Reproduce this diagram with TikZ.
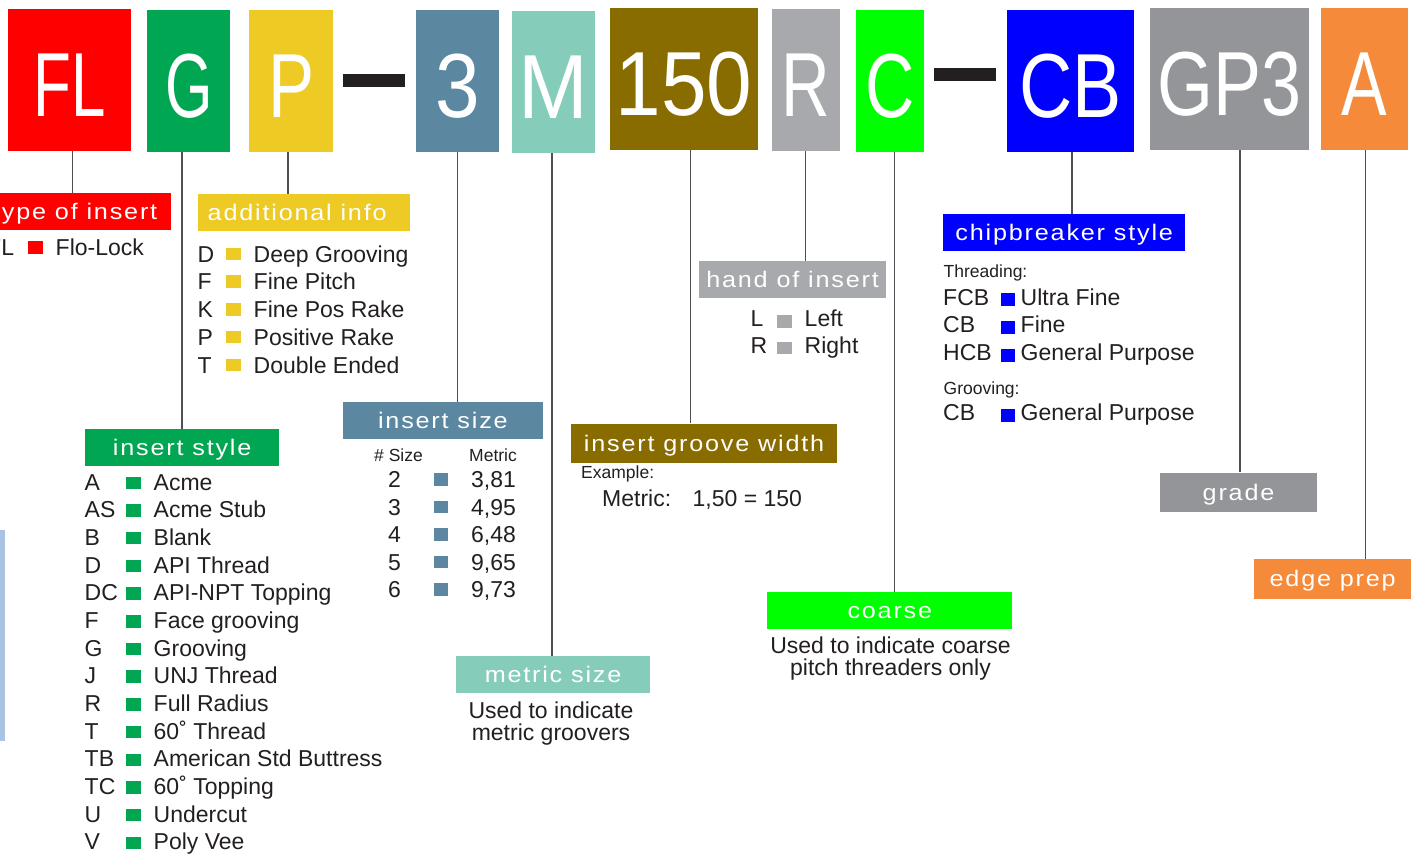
\documentclass[tikz,border=0pt]{standalone}
\usepackage{fontspec}
\setmainfont{Liberation Sans}
\newfontfamily\lblfont{Liberation Sans}[FakeStretch=1.12,LetterSpace=8]
\definecolor{clrRed}{HTML}{FF0000}
\definecolor{clrG}{HTML}{00A651}
\definecolor{clrY}{HTML}{EECA25}
\definecolor{clrSteel}{HTML}{5B87A1}
\definecolor{clrTeal}{HTML}{86CCBB}
\definecolor{clrOlive}{HTML}{896C00}
\definecolor{clrLgray}{HTML}{A7A9AC}
\definecolor{clrLime}{HTML}{00FF00}
\definecolor{clrBlue}{HTML}{0000FF}
\definecolor{clrDgray}{HTML}{939598}
\definecolor{clrOrange}{HTML}{F58A3A}
\definecolor{clrText}{HTML}{231F20}
\definecolor{clrLine}{HTML}{505052}
\definecolor{clrBar}{HTML}{AAC3E3}
\newcommand{\bigtxt}[2]{\scalebox{#1}[1]{#2}}
\begin{document}
\begin{tikzpicture}[x=1pt,y=-1pt,
  topbox/.style={rectangle, inner sep=0pt, anchor=north west, text=white, font=\fontsize{91}{91}\selectfont, text height=72pt, text depth=0pt},
  lbl/.style={rectangle, inner sep=0pt, anchor=north west, text=white, font=\lblfont\fontsize{22.5}{24}\selectfont, text height=16pt, text depth=0pt},
  listtxt/.style={anchor=base west, inner sep=0pt, text=clrText, font=\fontsize{23}{27}\selectfont},
  smalltxt/.style={anchor=base west, inner sep=0pt, text=clrText, font=\fontsize{17.5}{20}\selectfont},
  notetxt/.style={anchor=base, inner sep=0pt, text=clrText, font=\fontsize{23}{27}\selectfont},
  sqbox/.style={rectangle, inner sep=0pt, minimum width=14.5pt, minimum height=12.5pt, anchor=south west},
  dashbar/.style={rectangle, inner sep=0pt, fill=clrText, minimum width=61.5pt, minimum height=12.7pt, anchor=north west},
  conn/.style={draw=clrLine, line width=1.3pt}]
\useasboundingbox (0,0) rectangle (1415,856);
\fill[white] (0,0) rectangle (1415,856);
\clip (0,0) rectangle (1415,856);

% top code boxes
\node[topbox, fill=clrRed,    minimum width=122.7pt, minimum height=141.7pt] (FL)  at (8.2,9)    {\bigtxt{0.68}{FL}};
\node[topbox, fill=clrG,      minimum width=82.8pt,  minimum height=141.7pt] (G)   at (147.2,10) {\bigtxt{0.67}{G}};
\node[topbox, fill=clrY,      minimum width=83.8pt,  minimum height=141.7pt] (P)   at (249,10)   {\bigtxt{0.76}{P}};
\node[dashbar] (dash1) at (342.8,74) {};
\node[topbox, fill=clrSteel,  minimum width=82.8pt,  minimum height=141.7pt] (S3)  at (415.7,10) {\bigtxt{0.88}{3}};
\node[topbox, fill=clrTeal,   minimum width=82.5pt,  minimum height=141.7pt] (M)   at (512,11)   {\bigtxt{0.92}{M}};
\node[topbox, fill=clrOlive,  minimum width=147.9pt, minimum height=142.3pt] (W)   at (610,7.7)  {\bigtxt{0.9}{150}};
\node[topbox, fill=clrLgray,  minimum width=67.5pt,  minimum height=141.7pt] (R)   at (772,9)    {\bigtxt{0.74}{R}};
\node[topbox, fill=clrLime,   minimum width=68pt,    minimum height=141.7pt] (C)   at (856,10)   {\bigtxt{0.75}{C}};
\node[dashbar] (dash2) at (934,68) {};
\node[topbox, fill=clrBlue,   minimum width=127pt,   minimum height=141.7pt] (CB)  at (1007,10)  {\bigtxt{0.81}{CB}};
\node[topbox, fill=clrDgray,  minimum width=159pt,   minimum height=142.3pt] (GP)  at (1150,7.7) {\bigtxt{0.79}{GP3}};
\node[topbox, fill=clrOrange, minimum width=87pt,    minimum height=142.3pt] (A)   at (1321,7.7) {\bigtxt{0.75}{A}};

% label boxes
\node[lbl, fill=clrRed,    minimum width=192pt,   minimum height=37.3pt] (typeins)  at (-21,192.7)  {type of insert};
\node[lbl, fill=clrY,      minimum width=212pt,   minimum height=36.7pt] (addinfo)  at (198,194)    {additional info\hspace*{14pt}};
\node[lbl, fill=clrG,      minimum width=194pt,   minimum height=36.7pt] (insstyle) at (85,429)     {insert style};
\node[lbl, fill=clrSteel,  minimum width=200pt,   minimum height=37pt]   (inssize)  at (342.7,401.7){insert size};
\node[lbl, fill=clrTeal,   minimum width=193.7pt, minimum height=36.7pt] (metsize)  at (456,656)    {metric size};
\node[lbl, fill=clrOlive,  minimum width=265.7pt, minimum height=39.4pt] (groove)   at (571,423.3)  {insert groove width};
\node[lbl, fill=clrLgray,  minimum width=186.7pt, minimum height=36.7pt] (hand)     at (699,261)    {hand of insert};
\node[lbl, fill=clrLime,   minimum width=244.9pt, minimum height=36.7pt] (coarse)   at (767.2,592)  {coarse};
\node[lbl, fill=clrBlue,   minimum width=242pt,   minimum height=36.7pt] (chip)     at (943,214)    {chipbreaker style};
\node[lbl, fill=clrDgray,  minimum width=156.7pt, minimum height=39.4pt] (grade)    at (1160,472.3) {grade};
\node[lbl, fill=clrOrange, minimum width=157pt,   minimum height=39.3pt] (edge)     at (1254,559)   {edge prep};

% connectors
\coordinate (xFL) at (72.4,0);
\coordinate (xG) at (182,0);
\coordinate (xP) at (288,0);
\coordinate (x3) at (457.3,0);
\coordinate (xM) at (552,0);
\coordinate (xW) at (690.6,0);
\coordinate (xR) at (805.2,0);
\coordinate (xC) at (894.5,0);
\coordinate (xCB) at (1072,0);
\coordinate (xGP) at (1240,0);
\coordinate (xA) at (1365.3,0);
\draw[conn] (FL.south -| xFL) -- (typeins.north -| xFL);
\draw[conn] (G.south -| xG) -- (insstyle.north -| xG);
\draw[conn] (P.south -| xP) -- (addinfo.north -| xP);
\draw[conn] (S3.south -| x3) -- (inssize.north -| x3);
\draw[conn] (M.south -| xM) -- (metsize.north -| xM);
\draw[conn] (W.south -| xW) -- (groove.north -| xW);
\draw[conn] (R.south -| xR) -- (hand.north -| xR);
\draw[conn] (C.south -| xC) -- (coarse.north -| xC);
\draw[conn] (CB.south -| xCB) -- (chip.north -| xCB);
\draw[conn] (GP.south -| xGP) -- (grade.north -| xGP);
\draw[conn] (A.south -| xA) -- (edge.north -| xA);

% left light-blue bar
\fill[clrBar] (0,530) rectangle (5,741);

% type of insert
\node[listtxt] (tic) at (-13,255.7) {FL};
\node[sqbox, fill=clrRed] (tis) at (28,254) {};
\node[listtxt] (tid) at (55.5,255.7) {Flo-Lock};

% additional info
\foreach \c/\d [count=\i from 0] in {D/Deep Grooving, F/Fine Pitch, K/Fine Pos Rake, P/Positive Rake, T/Double Ended} {
  \pgfmathsetmacro\yy{262+27.75*\i}
  \node[listtxt] (aic\i) at (197.5,\yy) {\c};
  \node[sqbox, fill=clrY] (ais\i) at (226,\yy-1.7) {};
  \node[listtxt] (aid\i) at (253.5,\yy) {\d};
}

% insert style
\foreach \c/\d [count=\i from 0] in {A/Acme, AS/Acme Stub, B/Blank, D/API Thread, DC/API-NPT Topping, F/Face grooving, G/Grooving, J/UNJ Thread, R/Full Radius, T/60˚ Thread, TB/American Std Buttress, TC/60˚ Topping, U/Undercut, V/Poly Vee} {
  \pgfmathsetmacro\yy{490+27.69*\i}
  \node[listtxt] (isc\i) at (84.5,\yy) {\c};
  \node[sqbox, fill=clrG] (iss\i) at (126,\yy-0.7) {};
  \node[listtxt] (isd\i) at (153.5,\yy) {\d};
}

% insert size
\node[smalltxt] (szh1) at (374,461.7) {\# Size};
\node[smalltxt] (szh2) at (469,461.7) {Metric};
\foreach \c/\d [count=\i from 0] in {2/{3,81}, 3/{4,95}, 4/{6,48}, 5/{9,65}, 6/{9,73}} {
  \pgfmathsetmacro\yy{487.7+27.5*\i}
  \node[listtxt] (szc\i) at (388,\yy) {\c};
  \node[sqbox, fill=clrSteel] (szs\i) at (433.5,\yy-2) {};
  \node[listtxt] (szd\i) at (471,\yy) {\d};
}

% metric size note
\node[notetxt] (ms1) at (551,718.3) {Used to indicate};
\node[notetxt] (ms2) at (551,740) {metric groovers};

% groove width
\node[smalltxt] (gw1) at (581,478.3) {Example:};
\node[listtxt] (gw2) at (602,506.7) {Metric:};
\node[listtxt] (gw3) at (692.5,506.7) {1,50 = 150};

% hand of insert
\node[listtxt] (hc0) at (750.5,326.7) {L};
\node[sqbox, fill=clrLgray] (hs0) at (777,327.7) {};
\node[listtxt] (hd0) at (804.5,326.7) {Left};
\node[listtxt] (hc1) at (750.5,353.3) {R};
\node[sqbox, fill=clrLgray] (hs1) at (777,354.3) {};
\node[listtxt] (hd1) at (804.5,353.3) {Right};

% coarse note
\node[notetxt] (co1) at (890.5,653.3) {Used to indicate coarse};
\node[notetxt] (co2) at (890.5,675) {pitch threaders only};

% chipbreaker
\node[smalltxt] (cbh1) at (943.5,277.3) {Threading:};
\foreach \c/\d/\y [count=\i from 0] in {FCB/Ultra Fine/305, CB/Fine/332.7, HCB/General Purpose/360.7, CB/General Purpose/420.7} {
  \node[listtxt] (cbc\i) at (943,\y) {\c};
  \node[sqbox, fill=clrBlue] (cbs\i) at (1000.3,\y+1) {};
  \node[listtxt] (cbd\i) at (1020.5,\y) {\d};
}
\node[smalltxt] (cbh2) at (943.5,394) {Grooving:};
\end{tikzpicture}
\end{document}
